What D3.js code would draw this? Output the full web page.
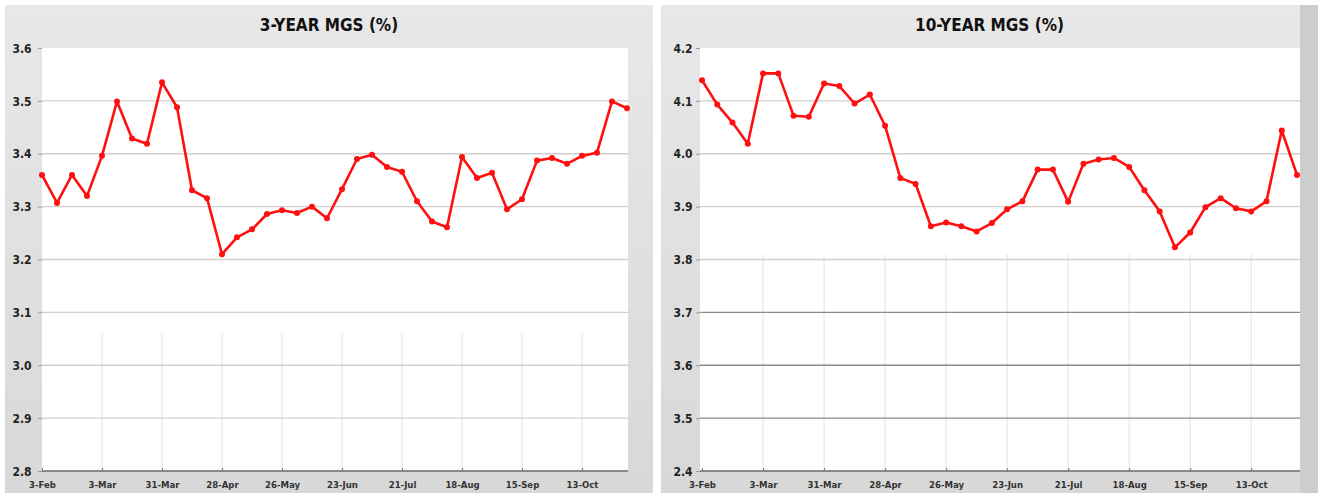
<!DOCTYPE html>
<html>
<head>
<meta charset="utf-8">
<script src="https://cdn.jsdelivr.net/npm/d3@7"></script>
<style>
  body { margin: 0; background: #fff; }
  svg { display: block; }
  .title { font: bold 17px "DejaVu Sans Condensed", "DejaVu Sans", sans-serif; fill: #111; }
  .yax text { font: bold 12px "DejaVu Sans Condensed", "DejaVu Sans", sans-serif; fill: #222; }
  .xax text { font: bold 9.5px "DejaVu Sans Condensed", "DejaVu Sans", sans-serif; fill: #333; }
</style>
</head>
<body>
<svg width="1322" height="493"></svg>
<script>
// weekly observations, starting Monday 3-Feb
var startDate = new Date(2014, 1, 3);
var weeks = d3.range(40).map(function(i) { return d3.timeDay.offset(startDate, 7 * i); });
var xTickDates = d3.range(10).map(function(i) { return d3.timeDay.offset(startDate, 28 * i); });

var mgs3Y = [3.36, 3.307, 3.36, 3.32, 3.396, 3.499, 3.429, 3.419, 3.535, 3.488,
             3.331, 3.316, 3.21, 3.242, 3.257, 3.286, 3.293, 3.288, 3.30, 3.278,
             3.333, 3.39, 3.398, 3.375, 3.366, 3.31, 3.272, 3.261, 3.394, 3.354,
             3.364, 3.295, 3.314, 3.387, 3.392, 3.381, 3.396, 3.402, 3.499, 3.486];

var mgs10Y = [4.139, 4.093, 4.059, 4.019, 4.152, 4.152, 4.072, 4.07, 4.133, 4.128,
              4.095, 4.112, 4.053, 3.954, 3.943, 3.863, 3.87, 3.863, 3.853, 3.869,
              3.895, 3.91, 3.97, 3.97, 3.909, 3.981, 3.989, 3.992, 3.975, 3.931,
              3.891, 3.823, 3.851, 3.899, 3.916, 3.897, 3.891, 3.91, 4.044, 3.96];

var yTicks3Y = [3.6, 3.5, 3.4, 3.3, 3.2, 3.1, 3.0, 2.9, 2.8];
var yLabels3Y = ["3.6", "3.5", "3.4", "3.3", "3.2", "3.1", "3.0", "2.9", "2.8"];
var yTicks10Y = [4.2, 4.1, 4.0, 3.9, 3.8, 3.7, 3.6, 3.5, 3.4];
var yLabels10Y = ["4.2", "4.1", "4.0", "3.9", "3.8", "3.7", "3.6", "3.5", "2.4"];

var svg = d3.select("svg");

var defs = svg.append("defs");
var grad = defs.append("linearGradient")
    .attr("id", "panelBg").attr("x1", 0).attr("y1", 0).attr("x2", 0).attr("y2", 1);
grad.append("stop").attr("offset", "0%").attr("stop-color", "#e8e8e8");
grad.append("stop").attr("offset", "100%").attr("stop-color", "#d8d8d8");

var charts = [
  { title: "3-YEAR MGS (%)", values: mgs3Y, ticks: yTicks3Y, labels: yLabels3Y,
    panel: [5, 653], plot: [42, 628], xr: [42, 627], labelX: 22,
    vgridFrom: 3.06, darkBelow: null },
  { title: "10-YEAR MGS (%)", values: mgs10Y, ticks: yTicks10Y, labels: yLabels10Y,
    panel: [661, 1318], plot: [700, 1300], xr: [702, 1297], labelX: 683,
    vgridFrom: 3.81, darkBelow: 3.75 }
];

var plotTop = 48, plotBottom = 471;

charts.forEach(function(c) {
  var g = svg.append("g");

  var x = d3.scaleTime()
      .domain([weeks[0], weeks[weeks.length - 1]])
      .range(c.xr);
  var y = d3.scaleLinear()
      .domain([d3.min(c.ticks), d3.max(c.ticks)])
      .range([plotBottom, plotTop]);

  // panel background
  g.append("rect")
      .attr("x", c.panel[0]).attr("y", 5)
      .attr("width", c.panel[1] - c.panel[0]).attr("height", 488)
      .attr("fill", "url(#panelBg)");
  if (c.darkBelow !== null) {
    g.append("rect")
        .attr("x", c.plot[1]).attr("y", 5)
        .attr("width", c.panel[1] - c.plot[1]).attr("height", 488)
        .attr("fill", "#cdcdcd");
  }

  // plot area
  g.append("rect")
      .attr("x", c.plot[0]).attr("y", plotTop)
      .attr("width", c.plot[1] - c.plot[0]).attr("height", plotBottom - plotTop)
      .attr("fill", "#fff");

  // faint vertical grid in the lower part
  g.append("g").selectAll("line")
      .data(xTickDates.slice(1))
    .enter().append("line")
      .attr("x1", function(d) { return x(d); })
      .attr("x2", function(d) { return x(d); })
      .attr("y1", y(c.vgridFrom))
      .attr("y2", plotBottom)
      .attr("stroke", "#e2e2e2")
      .attr("stroke-width", 1);

  // horizontal grid
  g.append("g").selectAll("line")
      .data(c.ticks.slice(1, -1))
    .enter().append("line")
      .attr("x1", c.plot[0]).attr("x2", c.plot[1])
      .attr("y1", function(d) { return y(d); })
      .attr("y2", function(d) { return y(d); })
      .attr("stroke", function(d) {
        return (c.darkBelow !== null && d < c.darkBelow) ? "#8a8a8a" : "#cfcfcf";
      })
      .attr("stroke-width", 1.3);

  // y axis
  var yAxis = g.append("g")
      .attr("class", "yax")
      .attr("transform", "translate(" + c.plot[0] + ",0)")
      .call(d3.axisLeft(y)
        .tickValues(c.ticks)
        .tickSize(4)
        .tickPadding(0)
        .tickFormat(function(d, i) { return c.labels[i]; }));
  yAxis.select(".domain").remove();
  yAxis.selectAll("line").attr("stroke", "#9a9a9a");
  yAxis.selectAll("text")
      .attr("text-anchor", "middle")
      .attr("x", c.labelX - c.plot[0])
      .attr("dy", "0.35em");

  // x axis
  var xAxis = g.append("g")
      .attr("class", "xax")
      .attr("transform", "translate(0," + plotBottom + ")")
      .call(d3.axisBottom(x)
        .tickValues(xTickDates)
        .tickSizeInner(-3)
        .tickSizeOuter(0)
        .tickPadding(10)
        .tickFormat(d3.timeFormat("%-d-%b")));
  xAxis.select(".domain")
      .attr("d", "M" + c.plot[0] + ",0H" + c.plot[1])
      .attr("stroke", "#6a6a6a")
      .attr("stroke-width", 1.6);
  xAxis.selectAll(".tick line").attr("stroke", "#777");

  // title
  g.append("text")
      .attr("class", "title")
      .attr("x", (c.panel[0] + c.panel[1]) / 2)
      .attr("y", 31)
      .attr("text-anchor", "middle")
      .text(c.title);

  // series
  var line = d3.line()
      .x(function(d, i) { return x(weeks[i]); })
      .y(function(d) { return y(d); });

  g.append("path")
      .datum(c.values)
      .attr("d", line)
      .attr("fill", "none")
      .attr("stroke", "#ff1010")
      .attr("stroke-width", 2.6)
      .attr("stroke-linejoin", "round");

  g.append("g").selectAll("circle")
      .data(c.values)
    .enter().append("circle")
      .attr("cx", function(d, i) { return x(weeks[i]); })
      .attr("cy", function(d) { return y(d); })
      .attr("r", 3)
      .attr("fill", "#ff1010");
});
</script>
</body>
</html>
